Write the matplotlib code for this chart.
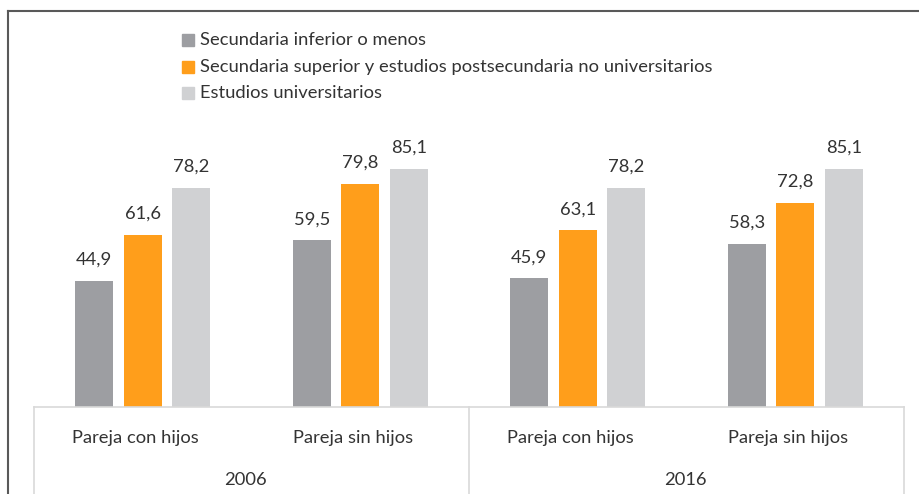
import matplotlib
matplotlib.use("Agg")
import matplotlib.pyplot as plt
from matplotlib.patches import Rectangle
from matplotlib.lines import Line2D

plt.rcParams['font.family'] = ['Lato', 'DejaVu Sans']

years = ["2006", "2016"]
categories = ["Pareja con hijos", "Pareja sin hijos", "Pareja con hijos", "Pareja sin hijos"]
series_names = ["Secundaria inferior o menos",
                "Secundaria superior y estudios postsecundaria no universitarios",
                "Estudios universitarios"]
s_inferior = [44.9, 59.5, 45.9, 58.3]
s_superior = [61.6, 79.8, 63.1, 72.8]
s_univ = [78.2, 85.1, 78.2, 85.1]
series = [s_inferior, s_superior, s_univ]
colors = ["#9D9EA2", "#FF9E1B", "#D0D1D3"]
txt = "#333333"
FS = 13.2

W, H = 920, 494
fig = plt.figure(figsize=(W / 100, H / 100), dpi=100)

def fx(px):
    return px / W

def fy(py):
    return 1 - py / H

ax_l, ax_r, ax_b = 34, 904, 407
ax_h = 280
ax = fig.add_axes([fx(ax_l), fy(ax_b), fx(ax_r - ax_l), ax_h / H])
ax.set_xlim(-0.5, len(categories) - 0.5)
ax.set_ylim(0, 100)
ax.axis('off')

bw = 38 / 217.5
step = 48.5 / 217.5
for i, (vals, c) in enumerate(zip(series, colors)):
    xs = [k + (i - 1) * step for k in range(len(categories))]
    ax.bar(xs, vals, width=bw, color=c, zorder=2)
    for x, v in zip(xs, vals):
        ax.annotate(f"{v:.1f}".replace(".", ","), (x, v), xytext=(0, 9.5),
                    textcoords="offset points", ha="center", va="bottom",
                    fontsize=FS, color=txt)

# baseline and separators
line_c = "#D9D9D9"
fig.add_artist(Line2D([fx(ax_l), fx(ax_r)], [fy(ax_b), fy(ax_b)], color=line_c, lw=1.2))
for xp in [ax_l, (ax_l + ax_r) / 2, ax_r]:
    fig.add_artist(Line2D([fx(xp), fx(xp)], [fy(ax_b), 0], color=line_c, lw=1.2))

# category labels
for k, lab in enumerate(categories):
    xd = ax.transData.transform((k, 0))[0]
    fig.text((xd - 7) / W, fy(438), lab, ha="center", va="center", fontsize=FS, color=txt)
group_centers = [245, 685]
for g, y in zip(group_centers, years):
    fig.text(fx(g), fy(480), y, ha="center", va="center", fontsize=FS, color=txt)

# legend
leg_y = [40, 67, 93]
for name, c, yy in zip(series_names, colors, leg_y):
    fig.add_artist(Rectangle((fx(182), fy(yy + 6)), 12 / W, 12 / H, color=c))
    fig.text(fx(200), fy(yy), name, ha="left", va="center", fontsize=FS, color=txt)

# outer frame
fig.add_artist(Line2D([fx(8), fx(8)], [fy(11), 0], color="#595959", lw=1.5))
fig.add_artist(Line2D([fx(8), 1], [fy(11), fy(11)], color="#595959", lw=1.5))

fig.savefig("out.png", dpi=100)
